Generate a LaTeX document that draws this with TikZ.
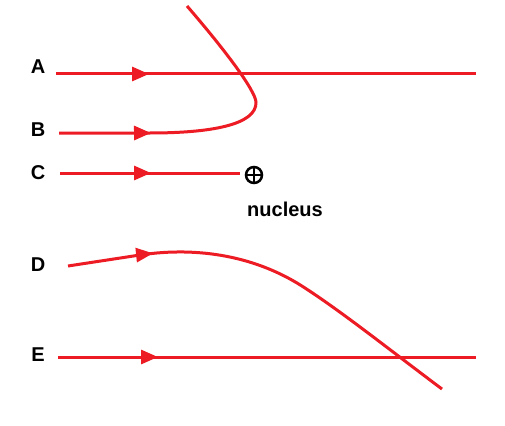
\documentclass[tikz,border=0pt]{standalone}
\usepackage{fontspec}
\setmainfont{Liberation Sans}
\usetikzlibrary{arrows.meta}
\usetikzlibrary{decorations.markings}
\definecolor{paintred}{RGB}{237,28,36}
\tikzset{
  ray/.style={draw=paintred, line width=3pt},
  arrowat/.style={postaction={decorate}, decoration={markings,
    mark=at position #1 with {\arrow[paintred]{Triangle[length=17pt,width=14pt]}}}},
  lbl/.style={font=\fontsize{20}{22}\selectfont\bfseries, inner sep=0pt}
}

\begin{document}
\begin{tikzpicture}[x=1pt,y=-1pt]
  \useasboundingbox[fill=white] (0,0) rectangle (505,425);

% letters
  \foreach \n/\y in {A/67,B/130,C/173,D/265,E/355}{
    \node[lbl] (lab\n) at (38,\y) {\n};
  }
  \node[circle, draw, line width=2.5pt, minimum size=16pt, inner sep=0pt] (nuc) at (254,175) {};
  \draw[line width=2.5pt] (nuc.north) -- (nuc.south) (nuc.west) -- (nuc.east);
  \node[lbl] (nuclabel) at (285,209) {nucleus};

% start and end points
  \coordinate (A0) at (56,74);   \coordinate (A1) at (476,74);
  \coordinate (B0) at (59,133);
  \coordinate (C0) at (60,173);
  \coordinate (D0) at (68,266);
  \coordinate (E0) at (58,357);  \coordinate (E1) at (476,357);

% rays
  \draw[ray, arrowat=93pt] (A0) -- (A1);
  \draw[ray, arrowat=92pt] (B0) -- (150,133)
    .. controls (210,133) and (257,125) .. (256,102)
    .. controls (255,90) and (225,50) .. (187,6);
  \draw[ray, arrowat=91pt, shorten >=5pt] (C0) -- (C0 -| nuc.west);
  \draw[ray, arrowat=86pt] (D0) -- (140,255)
    .. controls (200,246) and (258,257) .. (305,288)
    .. controls (345,314) and (395,354) .. (442,389);
  \draw[ray, arrowat=100pt] (E0) -- (E1);
\end{tikzpicture}
\end{document}
